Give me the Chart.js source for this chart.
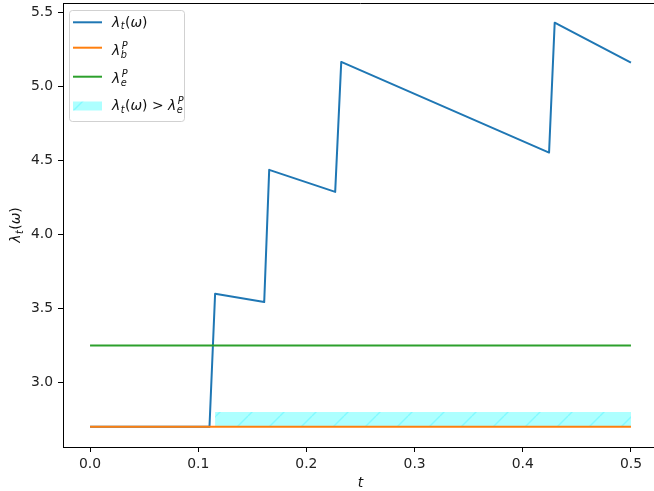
<!DOCTYPE html>
<html>
<head>
<meta charset="utf-8">
<script src="https://cdn.jsdelivr.net/npm/chart.js@4.4.1/dist/chart.umd.min.js"></script>
<style>
  html, body { margin: 0; padding: 0; background: #fff; overflow: hidden; width: 654px; height: 491px; }
  #wrap { width: 658px; height: 491px; }
</style>
</head>
<body>
<div id="wrap"><canvas id="c" width="658" height="491"></canvas></div>
<script>
// Intensity path: jumps at event times, decay in between
const tIntensity   = [0, 0.1104, 0.1156, 0.1610, 0.1656, 0.2266, 0.2322, 0.4243, 0.4295, 0.5];
const lamIntensity = [2.70, 2.70, 3.600, 3.544, 4.438, 4.289, 5.168, 4.555, 5.433, 5.163];
const tSpan = [0, 0.5];
const lamBase = 2.70;     // baseline intensity
const lamExcite = 3.25;   // excitation threshold
const bandTop = 2.80;     // upper edge of the indicator band
const xTicks = [0, 0.1, 0.2, 0.3, 0.4, 0.5];
const yTicks = [3.0, 3.5, 4.0, 4.5, 5.0, 5.5];

const BLUE = '#1f77b4', ORANGE = '#ff7f0e', GREEN = '#2ca02c';
const FONT = "'DejaVu Sans'";
const FS = 13.9;

// times where the intensity sits above the threshold
const above = tIntensity.filter((t, i) => lamIntensity[i] > lamExcite);
const bandStart = above[0], bandEnd = above[above.length - 1];

function hatchPattern() {
  const s = 32;
  const c = document.createElement('canvas');
  c.width = s; c.height = s;
  const g = c.getContext('2d');
  g.fillStyle = 'rgba(0,255,255,0.32)';
  g.fillRect(0, 0, s, s);
  g.strokeStyle = 'rgba(0,235,255,0.25)';
  g.lineWidth = 1.4;
  for (const k of [24, 56]) {
    g.beginPath(); g.moveTo(k, 0); g.lineTo(k - s, s); g.stroke();
  }
  return document.getElementById('c').getContext('2d').createPattern(c, 'repeat');
}
const HATCH = hatchPattern();

// small math-text writer: items are {s, i (italic), sub, sup}
function drawMath(ctx, items, x, y, size, draw) {
  let cx = x;
  for (const it of items) {
    if (it.sub !== undefined || it.sup !== undefined) {
      const ss = size * 0.7;
      ctx.font = `italic ${ss}px ${FONT}`;
      let w = 0;
      if (it.sub !== undefined) {
        if (draw) ctx.fillText(it.sub, cx + 0.5, y + size * 0.2);
        w = Math.max(w, ctx.measureText(it.sub).width);
      }
      if (it.sup !== undefined) {
        if (draw) ctx.fillText(it.sup, cx + 1.5, y - size * 0.45);
        w = Math.max(w, ctx.measureText(it.sup).width + 1);
      }
      cx += w + 1;
    } else {
      ctx.font = `${it.i ? 'italic ' : ''}${size}px ${FONT}`;
      if (draw) ctx.fillText(it.s, cx, y);
      cx += ctx.measureText(it.s).width + (it.pad || 0);
    }
  }
  return cx - x;
}

const lamT = [{ s: 'λ', i: 1 }, { sub: 't' }, { s: '(' }, { s: 'ω', i: 1 }, { s: ')' }];
const lamB = [{ s: 'λ', i: 1 }, { sub: 'b', sup: 'P' }];
const lamE = [{ s: 'λ', i: 1 }, { sub: 'e', sup: 'P' }];
const lamCmp = [...lamT, { s: ' > ' }, ...lamE];

const decor = {
  id: 'decor',
  afterDraw(chart) {
    const ctx = chart.ctx;
    const a = chart.chartArea;
    ctx.save();
    // top spine
    ctx.strokeStyle = '#000';
    ctx.lineWidth = 1;
    ctx.beginPath();
    ctx.moveTo(a.left, Math.round(a.top) + 0.5);
    ctx.lineTo(a.right, Math.round(a.top) + 0.5);
    ctx.stroke();

    // axis titles
    ctx.fillStyle = '#111';
    ctx.textBaseline = 'alphabetic';
    ctx.font = `italic ${FS}px ${FONT}`;
    ctx.textAlign = 'center';
    ctx.fillText('t', (a.left + a.right) / 2, 487);
    ctx.textAlign = 'left';
    ctx.save();
    ctx.translate(16, (a.top + a.bottom) / 2);
    ctx.rotate(-Math.PI / 2);
    const w = drawMath(ctx, lamT, 0, 0, FS, false);
    drawMath(ctx, lamT, -w / 2, 4, FS, true);
    ctx.restore();

    // legend
    const L = { x: 69.5, y: 10.5, w: 115, h: 111, r: 3 };
    ctx.beginPath();
    ctx.roundRect(L.x, L.y, L.w, L.h, L.r);
    ctx.fillStyle = 'rgba(255,255,255,0.8)';
    ctx.fill();
    ctx.strokeStyle = 'rgba(204,204,204,0.9)';
    ctx.lineWidth = 1;
    ctx.stroke();

    const hx0 = 73, hx1 = 102, tx = 112;
    const entries = [
      { kind: 'line', color: BLUE, hy: 22.3, base: 26.7, label: lamT },
      { kind: 'line', color: ORANGE, hy: 47.7, base: 55, label: lamB },
      { kind: 'line', color: GREEN, hy: 76.7, base: 83.3, label: lamE },
      { kind: 'patch', hy: 106, base: 110, label: lamCmp }
    ];
    for (const e of entries) {
      if (e.kind === 'line') {
        ctx.strokeStyle = e.color;
        ctx.lineWidth = 2;
        ctx.beginPath();
        ctx.moveTo(hx0, e.hy); ctx.lineTo(hx1, e.hy);
        ctx.stroke();
      } else {
        ctx.fillStyle = HATCH;
        ctx.fillRect(hx0, e.hy - 4.5, hx1 - hx0, 9);
      }
      ctx.fillStyle = '#111';
      drawMath(ctx, e.label, tx, e.base, FS, true);
    }
    ctx.restore();
  }
};

const pts = (xs, ys) => xs.map((x, i) => ({ x, y: ys[i] }));

new Chart(document.getElementById('c'), {
  type: 'line',
  data: {
    datasets: [
      {
        data: pts(tIntensity, lamIntensity),
        borderColor: BLUE, borderWidth: 2, pointRadius: 0, tension: 0,
        borderJoinStyle: 'round', fill: false, order: 3
      },
      {
        data: pts(tSpan, [lamBase, lamBase]),
        borderColor: ORANGE, borderWidth: 2, pointRadius: 0, fill: false, order: 2
      },
      {
        data: pts(tSpan, [lamExcite, lamExcite]),
        borderColor: GREEN, borderWidth: 2, pointRadius: 0, fill: false, order: 1
      },
      {
        data: pts([bandStart, bandEnd], [lamBase, lamBase]),
        borderWidth: 0, borderColor: 'rgba(0,0,0,0)', pointRadius: 0, fill: false, order: 10
      },
      {
        data: pts([bandStart, bandEnd], [bandTop, bandTop]),
        borderWidth: 0, borderColor: 'rgba(0,0,0,0)', pointRadius: 0,
        fill: '-1', backgroundColor: HATCH, order: 9
      }
    ]
  },
  options: {
    responsive: false,
    animation: false,
    events: [],
    layout: { padding: { top: 3, right: 0, left: 0, bottom: 0 } },
    plugins: { legend: { display: false }, tooltip: { enabled: false } },
    scales: {
      x: {
        type: 'linear', min: -0.025, max: 0.525,
        afterBuildTicks: s => { s.ticks = xTicks.map(v => ({ value: v })); },
        afterFit: s => { s.height = 44; s.paddingLeft = 0; s.paddingRight = 0; },
        grid: { drawOnChartArea: false, drawTicks: true, tickLength: 5, tickColor: '#000', tickWidth: 1 },
        border: { color: '#000', width: 1 },
        ticks: {
          color: '#222', padding: 4, maxRotation: 0, autoSkip: false,
          font: { family: 'DejaVu Sans', size: FS },
          callback: v => Number(v).toFixed(1)
        }
      },
      y: {
        type: 'linear', min: 2.5635, max: 5.5665,
        afterBuildTicks: s => { s.ticks = yTicks.map(v => ({ value: v })); },
        afterFit: s => { s.width = 63; s.paddingTop = 0; s.paddingBottom = 0; },
        grid: { drawOnChartArea: false, drawTicks: true, tickLength: 5, tickColor: '#000', tickWidth: 1 },
        border: { color: '#000', width: 1 },
        ticks: {
          color: '#222', padding: 5, autoSkip: false,
          font: { family: 'DejaVu Sans', size: FS },
          callback: v => Number(v).toFixed(1)
        }
      }
    }
  },
  plugins: [decor]
});
</script>
</body>
</html>
